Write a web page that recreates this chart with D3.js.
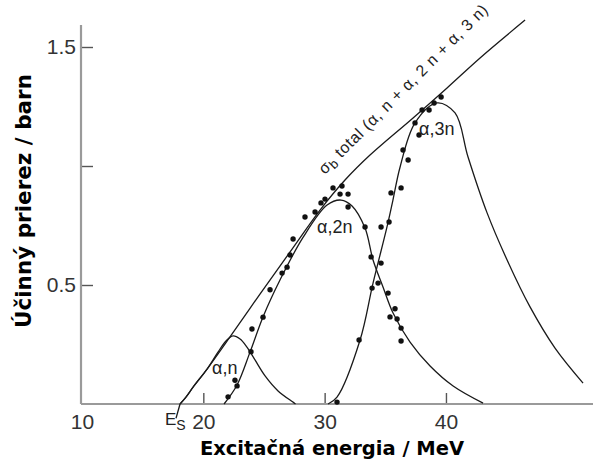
<!DOCTYPE html>
<html>
<head>
<meta charset="utf-8">
<script src="https://cdn.jsdelivr.net/npm/d3@7"></script>
<style>
  body { margin: 0; background: #fff; }
  svg { display: block; }
</style>
</head>
<body>
<svg></svg>
<script>
const width = 593,
    height = 465;

const svg = d3.select("svg")
    .attr("width", width)
    .attr("height", height);

// curves: [energy MeV, cross section barn]
const totalCurve = [[18.08, 0], [18.57, 0.029], [19.23, 0.076], [20.31, 0.147], [22.2, 0.282], [24.67, 0.462],
    [27.15, 0.639], [29.62, 0.815], [31.68, 0.941], [33.74, 1.046], [37.29, 1.202], [40.09, 1.328],
    [42.81, 1.454], [46.52, 1.613]];
const anCurve = [[18.08, 0], [18.57, 0.029], [19.23, 0.076], [20.31, 0.147], [21.21, 0.218], [21.87, 0.265],
    [22.45, 0.286], [23.03, 0.273], [23.6, 0.239], [24.26, 0.185], [25.09, 0.118], [26.16, 0.055],
    [27.39, 0.008], [27.6, 0]];
const a2nCurve = [[21.71, 0], [22.78, 0.08], [23.85, 0.218], [24.92, 0.366], [26.32, 0.521], [28.22, 0.70],
    [30.2, 0.836], [31.35, 0.857], [32.26, 0.832], [33.33, 0.739], [33.99, 0.605], [34.81, 0.492],
    [35.64, 0.382], [37.04, 0.26], [38.69, 0.16], [40.59, 0.076], [43.06, 0.004]];
const a3nCurve = [[30.28, 0], [31.02, 0.029], [32.92, 0.269], [33.99, 0.508], [35.14, 0.744], [35.63, 0.857],
    [36.22, 0.996], [37.45, 1.181], [39.27, 1.265], [40.75, 1.223], [41.82, 1.038], [43.39, 0.803],
    [45.04, 0.605], [46.93, 0.408], [48.99, 0.235], [51.3, 0.088]];
const esLeader = [[18.08, 0], [17.75, -0.06]];

// measured points
const dotsLeft = [[22.04, 0.03], [22.78, 0.076], [22.61, 0.10], [23.93, 0.22], [24.01, 0.315], [24.92, 0.365],
    [25.5, 0.48], [26.49, 0.55], [26.9, 0.575], [27.15, 0.626], [27.4, 0.693], [28.38, 0.786],
    [29.21, 0.807], [29.7, 0.845], [30.03, 0.861], [30.69, 0.908], [31.43, 0.916], [31.27, 0.882],
    [31.93, 0.882], [31.93, 0.828], [33.33, 0.744], [33.83, 0.618], [34.65, 0.592], [34.4, 0.508],
    [35.23, 0.466], [35.8, 0.40], [35.39, 0.366], [35.97, 0.357], [36.3, 0.319], [36.3, 0.265]];
const dotsRight = [[31.02, 0.008], [32.84, 0.269], [33.91, 0.487], [34.65, 0.744], [35.31, 0.765],
    [35.47, 0.887], [36.3, 0.908], [36.46, 1.067], [36.88, 1.025], [37.45, 1.181], [37.78, 1.13],
    [38.03, 1.235], [38.61, 1.235], [39.02, 1.265], [39.6, 1.29]];

const xTicks = [10, 20, 30, 40];
const yTicks = [0.5, 1.0, 1.5];
const yTickLabels = ["0.5", "", "1.5"];

const x = d3.scaleLinear().domain([10, 52.12]).range([82, 593]);
const y = d3.scaleLinear().domain([0, 1.5]).range([404, 47]);

// axes
const xAxis = svg.append("g")
    .attr("transform", `translate(0,${y(0)})`)
    .call(d3.axisBottom(x).tickValues(xTicks).tickSize(-11).tickSizeOuter(0).tickPadding(10));
const yAxis = svg.append("g")
    .attr("transform", `translate(${x(10) - 1},0)`)
    .call(d3.axisLeft(y).tickValues(yTicks).tickSize(-12).tickSizeOuter(0).tickPadding(5)
        .tickFormat((d, i) => yTickLabels[i]));

[xAxis, yAxis].forEach(g => {
    g.select(".domain").remove();
    g.selectAll(".tick line").attr("stroke", "#555").attr("stroke-width", 1.4);
    g.selectAll(".tick text")
        .attr("fill", "#333")
        .style("font-family", "'Liberation Sans', Arial, sans-serif")
        .style("font-size", "21px");
});
xAxis.selectAll(".tick").filter(d => d === 10).select("line").remove();

svg.append("line")
    .attr("x1", x(10) - 1).attr("x2", width)
    .attr("y1", y(0)).attr("y2", y(0))
    .attr("stroke", "#9a9a9a").attr("stroke-width", 2.2);
svg.append("line")
    .attr("x1", x(10) - 1).attr("x2", x(10) - 1)
    .attr("y1", 25).attr("y2", y(0))
    .attr("stroke", "#9a9a9a").attr("stroke-width", 2.2);

// curves
const line = d3.line()
    .x(d => x(d[0]))
    .y(d => y(d[1]))
    .curve(d3.curveCatmullRom.alpha(0.5));

[totalCurve, anCurve, a2nCurve, a3nCurve].forEach(c => {
    svg.append("path")
        .attr("d", line(c))
        .attr("fill", "none")
        .attr("stroke", "#1a1a1a")
        .attr("stroke-width", 1.3);
});
svg.append("path")
    .attr("d", d3.line().x(d => x(d[0])).y(d => y(d[1]))(esLeader))
    .attr("fill", "none")
    .attr("stroke", "#1a1a1a")
    .attr("stroke-width", 1.3);

svg.selectAll("circle.dot")
    .data(dotsLeft.concat(dotsRight))
    .join("circle")
    .attr("class", "dot")
    .attr("cx", d => x(d[0]))
    .attr("cy", d => y(d[1]))
    .attr("r", 2.7)
    .attr("fill", "#111");

// curve labels
const labelFont = "'Liberation Sans', Arial, sans-serif";
function curveLabel(e, s, txt) {
    svg.append("text")
        .attr("x", x(e))
        .attr("y", y(s))
        .attr("fill", "#222")
        .style("font-family", labelFont)
        .style("font-size", "18px")
        .text(txt);
}
curveLabel(20.72, 0.126, "α,n");
curveLabel(29.37, 0.718, "α,2n");
curveLabel(37.78, 1.13, "α,3n");

// label along the total curve, stretched to the length seen in the picture
const totLabel = svg.append("text")
    .attr("transform", `translate(${x(30.0)},${y(0.962)}) rotate(-45)`)
    .attr("textLength", 232)
    .attr("lengthAdjust", "spacing")
    .attr("fill", "#222")
    .style("font-family", labelFont)
    .style("font-size", "16px");
totLabel.append("tspan").text("σ");
totLabel.append("tspan").attr("baseline-shift", "-25%").style("font-size", "13px").text("b");
totLabel.append("tspan").attr("baseline-shift", "0").text(" total (α, n + α, 2 n + α, 3 n)");

const esLabel = svg.append("text")
    .attr("x", x(16.84))
    .attr("y", y(-0.088))
    .attr("fill", "#222")
    .style("font-family", labelFont)
    .style("font-size", "17px");
esLabel.append("tspan").text("E");
esLabel.append("tspan").attr("baseline-shift", "-35%").style("font-size", "14px").text("S");

// axis titles
svg.append("text")
    .attr("x", 332)
    .attr("y", 455)
    .attr("text-anchor", "middle")
    .attr("fill", "#000")
    .style("font-family", "'DejaVu Sans', sans-serif")
    .style("font-weight", "bold")
    .style("font-size", "19.5px")
    .text("Excitačná energia / MeV");

svg.append("text")
    .attr("transform", "translate(31,201) rotate(-90)")
    .attr("text-anchor", "middle")
    .attr("fill", "#000")
    .style("font-family", "'DejaVu Sans', sans-serif")
    .style("font-weight", "bold")
    .style("font-size", "21.5px")
    .text("Účinný prierez / barn");
</script>
</body>
</html>
